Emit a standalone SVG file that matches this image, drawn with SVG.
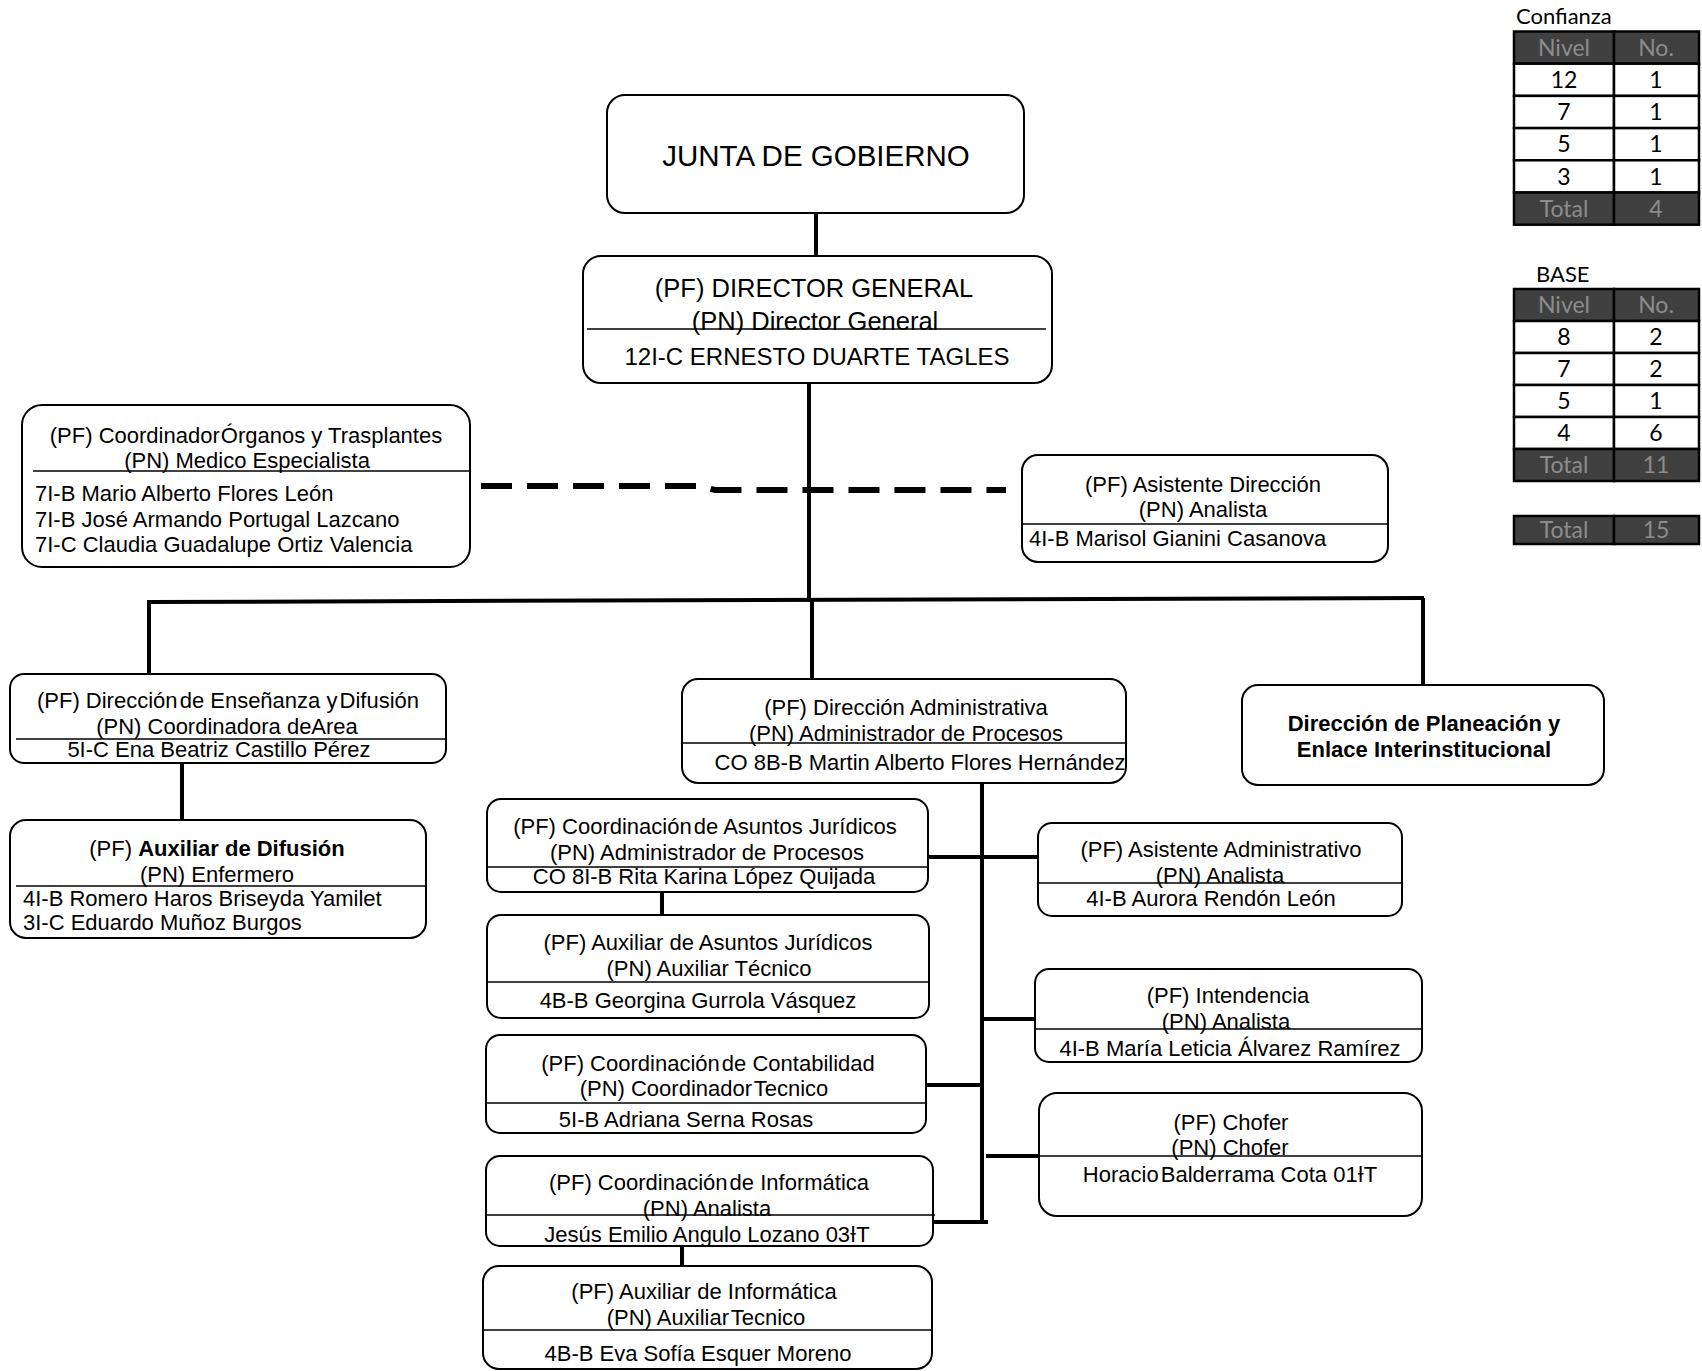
<svg xmlns="http://www.w3.org/2000/svg" width="1702" height="1371" viewBox="0 0 1702 1371">
<style>
.box{fill:#fff;stroke:#000;stroke-width:2}
.div{stroke:#000;stroke-width:1.6}
.t{font-family:"Liberation Sans",Arial,sans-serif;font-size:22px;fill:#000}
.c{text-anchor:middle}
.b{font-weight:bold}
.con{stroke:#000;stroke-width:4;fill:none}
.tb{font-family:Lato,"Open Sans",sans-serif;font-size:23px;text-anchor:middle}
.dk{fill:#404040;stroke:#000;stroke-width:2.5}
.wh{fill:#fff;stroke:#000;stroke-width:2.5}
.gt{fill:#8c8c8c}
</style>
<rect width="1702" height="1371" fill="#fff"/>
<g id="connectors">
<line class="con" x1="816" y1="213" x2="816" y2="256"/>
<line class="con" x1="809" y1="383" x2="809" y2="602"/>
<line class="con" x1="147" y1="602" x2="1424" y2="598"/>
<line class="con" x1="149" y1="602" x2="149" y2="674"/>
<line class="con" x1="812" y1="600" x2="812" y2="679"/>
<line class="con" x1="1423" y1="598" x2="1423" y2="685"/>
<line class="con" x1="182" y1="763" x2="182" y2="820"/>
<polyline fill="none" stroke="#000" stroke-width="6" stroke-dasharray="31,15" points="481,486 700,486 715,490 1006,490"/>
<line class="con" x1="982" y1="783" x2="982" y2="1224"/>
<line class="con" x1="928" y1="857" x2="1037" y2="857"/>
<line class="con" x1="982" y1="1019" x2="1035" y2="1019"/>
<line class="con" x1="926" y1="1085" x2="982" y2="1085"/>
<line class="con" x1="986" y1="1156" x2="1039" y2="1156"/>
<line class="con" x1="934" y1="1222" x2="988" y2="1222"/>
<line class="con" x1="662" y1="892" x2="662" y2="915"/>
<line class="con" x1="682" y1="1246" x2="682" y2="1266"/>
</g>
<g id="junta">
<rect class="box" x="607" y="95" width="417" height="118" rx="18"/>
<text class="t c" x="816" y="166" style="font-size:29.5px">JUNTA DE GOBIERNO</text>
</g>
<g id="director">
<rect class="box" x="583" y="256" width="469" height="127" rx="18"/>
<line class="div" x1="587" y1="329" x2="1046" y2="329"/>
<text class="t c" x="814" y="297" style="font-size:25.5px">(PF) DIRECTOR GENERAL</text>
<text class="t c" x="815" y="330" style="font-size:25.5px">(PN) Director General</text>
<text class="t c" x="817" y="365" style="font-size:24px">12I-C ERNESTO DUARTE TAGLES</text>
</g>
<g id="organos">
<rect class="box" x="22" y="405" width="448" height="162" rx="20"/>
<line class="div" x1="33" y1="471" x2="470" y2="471"/>
<text class="t c" x="246" y="443">(PF) Coordinador<tspan dx="-5"> Órganos y Trasplantes</tspan></text>
<text class="t c" x="247" y="468">(PN) Medico Especialista</text>
<text class="t" x="35" y="501">7I-B Mario Alberto Flores León</text>
<text class="t" x="35" y="527">7I-B José Armando Portugal Lazcano</text>
<text class="t" x="35" y="552">7I-C Claudia Guadalupe Ortiz Valencia</text>
</g>
<g id="asistente-direccion">
<rect class="box" x="1022" y="455" width="366" height="107" rx="16"/>
<line class="div" x1="1022" y1="524" x2="1388" y2="524"/>
<text class="t c" x="1203" y="492">(PF) Asistente Dirección</text>
<text class="t c" x="1203" y="517">(PN) Analista</text>
<text class="t" x="1029" y="546">4I-B Marisol Gianini Casanova</text>
</g>
<g id="ensenanza">
<rect class="box" x="10" y="674" width="436" height="89" rx="14"/>
<line class="div" x1="16" y1="739" x2="447" y2="739"/>
<text class="t c" x="228" y="708">(PF) Dirección<tspan dx="-4"> de Enseñanza y</tspan><tspan dx="-4"> Difusión</tspan></text>
<text class="t c" x="227" y="734">(PN) Coordinadora de<tspan dx="-5"> Area</tspan></text>
<text class="t c" x="219" y="757">5I-C Ena Beatriz Castillo Pérez</text>
</g>
<g id="aux-difusion">
<rect class="box" x="10" y="820" width="416" height="118" rx="16"/>
<line class="div" x1="16" y1="886" x2="426" y2="886"/>
<text class="t c" x="217" y="856">(PF) <tspan class="b">Auxiliar de Difusión</tspan></text>
<text class="t c" x="217" y="882">(PN) Enfermero</text>
<text class="t" x="23" y="906">4I-B Romero Haros Briseyda Yamilet</text>
<text class="t" x="23" y="930">3I-C Eduardo Muñoz Burgos</text>
</g>
<g id="dir-admin">
<rect class="box" x="682" y="679" width="444" height="104" rx="16"/>
<line class="div" x1="682" y1="743" x2="1126" y2="743"/>
<text class="t c" x="906" y="715">(PF) Dirección Administrativa</text>
<text class="t c" x="906" y="741">(PN) Administrador de Procesos</text>
<text class="t c" x="920" y="770">CO 8B-B Martin Alberto Flores Hernández</text>
</g>
<g id="planeacion">
<rect class="box" x="1242" y="685" width="362" height="100" rx="16"/>
<text class="t c b" x="1424" y="731">Dirección de Planeación y</text>
<text class="t c b" x="1424" y="757">Enlace Interinstitucional</text>
</g>
<g id="juridicos">
<rect class="box" x="487" y="799" width="441" height="93" rx="14"/>
<line class="div" x1="487" y1="867" x2="928" y2="867"/>
<text class="t c" x="705" y="834">(PF) Coordinación<tspan dx="-4"> de Asuntos Jurídicos</tspan></text>
<text class="t c" x="707" y="860">(PN) Administrador de Procesos</text>
<text class="t c" x="704" y="884">CO 8I-B Rita Karina López Quijada</text>
</g>
<g id="aux-juridicos">
<rect class="box" x="487" y="915" width="442" height="103" rx="14"/>
<line class="div" x1="487" y1="982" x2="930" y2="982"/>
<text class="t c" x="708" y="950">(PF) Auxiliar de Asuntos Jurídicos</text>
<text class="t c" x="709" y="976">(PN) Auxiliar Técnico</text>
<text class="t c" x="698" y="1008">4B-B Georgina Gurrola Vásquez</text>
</g>
<g id="contabilidad">
<rect class="box" x="486" y="1035" width="440" height="98" rx="14"/>
<line class="div" x1="486" y1="1103" x2="926" y2="1103"/>
<text class="t c" x="708" y="1071">(PF) Coordinación<tspan dx="-4"> de Contabilidad</tspan></text>
<text class="t c" x="704" y="1096">(PN) Coordinador<tspan dx="-4"> Tecnico</tspan></text>
<text class="t c" x="686" y="1127">5I-B Adriana Serna Rosas</text>
</g>
<g id="informatica">
<rect class="box" x="486" y="1156" width="447" height="90" rx="14"/>
<line class="div" x1="486" y1="1215" x2="935" y2="1215"/>
<text class="t c" x="709" y="1190">(PF) Coordinación<tspan dx="-4"> de Informática</tspan></text>
<text class="t c" x="707" y="1216">(PN) Analista</text>
<text class="t c" x="707" y="1242">Jesús Emilio Angulo Lozano 03ƗT</text>
</g>
<g id="aux-informatica">
<rect class="box" x="483" y="1266" width="449" height="103" rx="16"/>
<line class="div" x1="483" y1="1330" x2="932" y2="1330"/>
<text class="t c" x="704" y="1299">(PF) Auxiliar de Informática</text>
<text class="t c" x="706" y="1325">(PN) Auxiliar<tspan dx="-4"> Tecnico</tspan></text>
<text class="t c" x="698" y="1361">4B-B Eva Sofía Esquer Moreno</text>
</g>
<g id="asistente-admin">
<rect class="box" x="1038" y="823" width="364" height="93" rx="14"/>
<line class="div" x1="1038" y1="883" x2="1403" y2="883"/>
<text class="t c" x="1221" y="857">(PF) Asistente Administrativo</text>
<text class="t c" x="1220" y="883">(PN) Analista</text>
<text class="t c" x="1211" y="906">4I-B Aurora Rendón León</text>
</g>
<g id="intendencia">
<rect class="box" x="1035" y="969" width="387" height="93" rx="14"/>
<line class="div" x1="1035" y1="1029" x2="1422" y2="1029"/>
<text class="t c" x="1228" y="1003">(PF) Intendencia</text>
<text class="t c" x="1226" y="1029">(PN) Analista</text>
<text class="t c" x="1230" y="1056">4I-B María Leticia Álvarez Ramírez</text>
</g>
<g id="chofer">
<rect class="box" x="1039" y="1093" width="383" height="123" rx="18"/>
<line class="div" x1="1039" y1="1156" x2="1422" y2="1156"/>
<text class="t c" x="1231" y="1130">(PF) Chofer</text>
<text class="t c" x="1230" y="1155">(PN) Chofer</text>
<text class="t c" x="1230" y="1182">Horacio<tspan dx="-4"> Balderrama Cota 01ƗT</tspan></text>
</g>
<g id="tabla-confianza">
<text class="tb" x="1516" y="24" style="text-anchor:start;font-size:22px">Confianza</text>
<rect class="dk" x="1514" y="31.5" width="100" height="32.2"/>
<rect class="dk" x="1614" y="31.5" width="85" height="32.2"/>
<rect class="wh" x="1514" y="63.7" width="100" height="32.2"/>
<rect class="wh" x="1614" y="63.7" width="85" height="32.2"/>
<rect class="wh" x="1514" y="95.9" width="100" height="32.2"/>
<rect class="wh" x="1614" y="95.9" width="85" height="32.2"/>
<rect class="wh" x="1514" y="128.1" width="100" height="32.2"/>
<rect class="wh" x="1614" y="128.1" width="85" height="32.2"/>
<rect class="wh" x="1514" y="160.3" width="100" height="32.2"/>
<rect class="wh" x="1614" y="160.3" width="85" height="32.2"/>
<rect class="dk" x="1514" y="192.5" width="100" height="32.2"/>
<rect class="dk" x="1614" y="192.5" width="85" height="32.2"/>
<text class="tb gt" x="1564" y="56">Nivel</text><text class="tb gt" x="1656" y="56">No.</text>
<text class="tb" x="1564" y="88">12</text><text class="tb" x="1656" y="88">1</text>
<text class="tb" x="1564" y="120">7</text><text class="tb" x="1656" y="120">1</text>
<text class="tb" x="1564" y="152">5</text><text class="tb" x="1656" y="152">1</text>
<text class="tb" x="1564" y="185">3</text><text class="tb" x="1656" y="185">1</text>
<text class="tb gt" x="1564" y="217">Total</text><text class="tb gt" x="1656" y="217">4</text>
</g>
<g id="tabla-base">
<text class="tb" x="1536" y="282" style="text-anchor:start;font-size:22px">BASE</text>
<rect class="dk" x="1514" y="289" width="100" height="32"/>
<rect class="dk" x="1614" y="289" width="85" height="32"/>
<rect class="wh" x="1514" y="321" width="100" height="32"/>
<rect class="wh" x="1614" y="321" width="85" height="32"/>
<rect class="wh" x="1514" y="353" width="100" height="32"/>
<rect class="wh" x="1614" y="353" width="85" height="32"/>
<rect class="wh" x="1514" y="385" width="100" height="32"/>
<rect class="wh" x="1614" y="385" width="85" height="32"/>
<rect class="wh" x="1514" y="417" width="100" height="32"/>
<rect class="wh" x="1614" y="417" width="85" height="32"/>
<rect class="dk" x="1514" y="449" width="100" height="32"/>
<rect class="dk" x="1614" y="449" width="85" height="32"/>
<text class="tb gt" x="1564" y="313">Nivel</text><text class="tb gt" x="1656" y="313">No.</text>
<text class="tb" x="1564" y="345">8</text><text class="tb" x="1656" y="345">2</text>
<text class="tb" x="1564" y="377">7</text><text class="tb" x="1656" y="377">2</text>
<text class="tb" x="1564" y="409">5</text><text class="tb" x="1656" y="409">1</text>
<text class="tb" x="1564" y="441">4</text><text class="tb" x="1656" y="441">6</text>
<text class="tb gt" x="1564" y="473">Total</text><text class="tb gt" x="1656" y="473">11</text>
</g>
<g id="tabla-total">
<rect class="dk" x="1514" y="516" width="100" height="28"/>
<rect class="dk" x="1614" y="516" width="85" height="28"/>
<text class="tb gt" x="1564" y="538">Total</text><text class="tb gt" x="1656" y="538">15</text>
</g>
</svg>
